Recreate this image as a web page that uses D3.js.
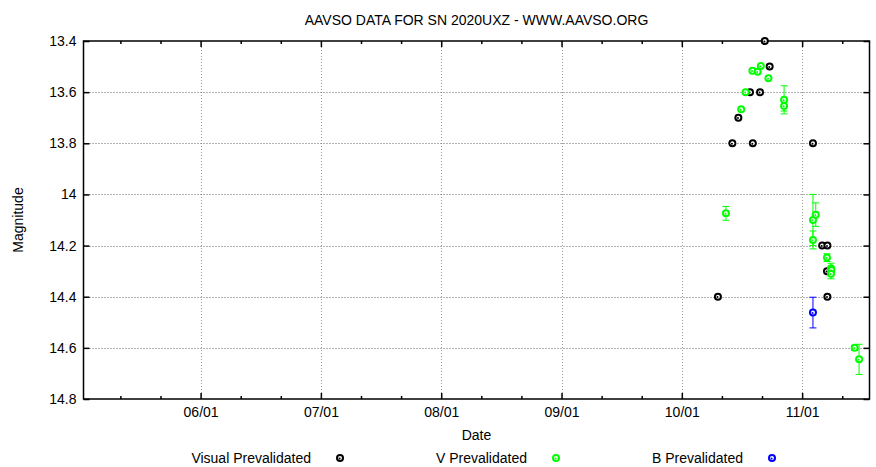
<!DOCTYPE html>
<html><head><meta charset="utf-8">
<script src="https://cdn.jsdelivr.net/npm/d3@7"></script>
<style>
html,body{margin:0;padding:0;background:#fff;}
text{font-family:"Liberation Sans",Arial,Helvetica,sans-serif;fill:#000;}
</style></head>
<body>
<svg id="chart" width="876" height="467"></svg>
<script>
// Day offsets from 2020-06-01 (axis uses 30-day tic spacing labelled by month)
const xTickDays = [0, 30, 60, 90, 120, 150];
const xTickLabels = ["06/01", "07/01", "08/01", "09/01", "10/01", "11/01"];
const xMinorDays = [-20, -10, 10, 20, 40, 50, 70, 80, 100, 110, 130, 140, 160];
const yTicks = [13.4, 13.6, 13.8, 14.0, 14.2, 14.4, 14.6, 14.8];

// Visual Prevalidated
const visualDays = [129.0, 132.6, 134.1, 137.0, 137.7, 139.5, 140.7, 141.9, 152.7, 155.0, 156.3, 156.2, 156.3];
const visualMag  = [14.4, 13.8, 13.7, 13.6, 13.8, 13.6, 13.4, 13.5, 13.8, 14.2, 14.2, 14.3, 14.4];

// V Prevalidated
const vDays = [131.0, 134.8, 135.9, 137.6, 138.9, 139.7, 141.6, 145.5, 145.5, 152.7, 153.4, 152.7, 156.2, 157.2, 157.3, 157.2, 163.1, 164.2];
const vMag  = [14.074, 13.667, 13.600, 13.516, 13.520, 13.498, 13.546, 13.630, 13.654, 14.100, 14.079, 14.178, 14.247, 14.289, 14.296, 14.310, 14.600, 14.645];
const vErr  = [0.027, 0, 0, 0, 0, 0, 0, 0.055, 0.02, 0.1, 0.046, 0.035, 0.015, 0.02, 0, 0.02, 0.01, 0.059];

// B Prevalidated
const bDays = [152.7];
const bMag  = [14.462];
const bErr  = [0.06];

const seriesNames = ["Visual Prevalidated", "V Prevalidated", "B Prevalidated"];
const seriesColors = ["#000000", "#00ff00", "#0000ff"];

const svg = d3.select("#chart");
const L = 83.5, R = 869.5, T = 41, B = 399;
const FS = 14;
const x = d3.scaleLinear().domain([-29.2, 166.8]).range([L, R]);
const y = d3.scaleLinear().domain([13.4, 14.8]).range([T, B]);
const fmtY = d => String(+d.toFixed(1));

// grid
const grid = svg.append("g");
grid.selectAll("line.gx").data(xTickDays).join("line")
  .attr("x1", d => Math.round(x(d)) + 0.5).attr("x2", d => Math.round(x(d)) + 0.5)
  .attr("y1", T).attr("y2", B)
  .attr("stroke", "#999").attr("stroke-width", 1).attr("stroke-dasharray", "1,2");
grid.selectAll("line.gy").data(yTicks.slice(1, -1)).join("line")
  .attr("y1", d => Math.round(y(d)) + 0.5).attr("y2", d => Math.round(y(d)) + 0.5)
  .attr("x1", L).attr("x2", R)
  .attr("stroke", "#666").attr("stroke-width", 1).attr("stroke-dasharray", "1,2");

// axes
function styleAxis(g) {
  g.select(".domain").remove();
  g.selectAll(".tick line").attr("stroke", "#000").attr("stroke-width", 1.5);
  g.selectAll(".tick text").attr("font-size", FS).attr("font-family", '"Liberation Sans",Arial,sans-serif');
}
svg.append("g").attr("transform", `translate(0,${B})`)
  .call(d3.axisBottom(x).tickValues(xTickDays).tickFormat((d, i) => xTickLabels[i]).tickSize(-6).tickPadding(8))
  .call(styleAxis);
svg.append("g").attr("transform", `translate(0,${B})`)
  .call(d3.axisBottom(x).tickValues(xMinorDays).tickFormat("").tickSize(-3))
  .call(styleAxis);
svg.append("g").attr("transform", `translate(0,${T})`)
  .call(d3.axisTop(x).tickValues(xTickDays).tickFormat("").tickSize(-6))
  .call(styleAxis);
svg.append("g").attr("transform", `translate(0,${T})`)
  .call(d3.axisTop(x).tickValues(xMinorDays).tickFormat("").tickSize(-3))
  .call(styleAxis);
svg.append("g").attr("transform", `translate(${L},0)`)
  .call(d3.axisLeft(y).tickValues(yTicks).tickFormat(fmtY).tickSize(-6).tickPadding(7))
  .call(styleAxis);
svg.append("g").attr("transform", `translate(${R},0)`)
  .call(d3.axisRight(y).tickValues(yTicks).tickFormat("").tickSize(-6))
  .call(styleAxis);

// border
svg.append("rect").attr("x", L).attr("y", T).attr("width", R - L).attr("height", B - T)
  .attr("fill", "none").attr("stroke", "#000").attr("stroke-width", 1.5);

// markers
function marker(g, cx, cy, color) {
  g.append("circle").attr("cx", cx).attr("cy", cy).attr("r", 4).attr("fill", color);
  g.append("circle").attr("cx", cx).attr("cy", cy).attr("r", 2.0).attr("fill", "#fff");
  g.append("circle").attr("cx", cx - 0.4).attr("cy", cy + 0.4).attr("r", 1.0).attr("fill", color);
}
function errBar(g, cx, m, e, color) {
  if (!e) return;
  const y1 = y(m - e), y2 = y(m + e);
  g.append("line").attr("x1", cx).attr("x2", cx).attr("y1", y1).attr("y2", y2).attr("stroke", color).attr("stroke-width", 1);
  [y1, y2].forEach(yy => g.append("line").attr("x1", cx - 3.5).attr("x2", cx + 3.5).attr("y1", yy).attr("y2", yy).attr("stroke", color).attr("stroke-width", 1));
}
const pts = svg.append("g");
visualDays.forEach((d, i) => marker(pts, x(d), y(visualMag[i]), seriesColors[0]));
vDays.forEach((d, i) => errBar(pts, x(d), vMag[i], vErr[i], seriesColors[1]));
vDays.forEach((d, i) => marker(pts, x(d), y(vMag[i]), seriesColors[1]));
bDays.forEach((d, i) => errBar(pts, x(d), bMag[i], bErr[i], seriesColors[2]));
bDays.forEach((d, i) => marker(pts, x(d), y(bMag[i]), seriesColors[2]));

// titles
svg.append("text").attr("x", (L + R) / 2).attr("y", 25).attr("text-anchor", "middle").attr("font-size", FS)
  .text("AAVSO DATA FOR SN 2020UXZ - WWW.AAVSO.ORG");
svg.append("text").attr("x", (L + R) / 2).attr("y", 440).attr("text-anchor", "middle").attr("font-size", FS).text("Date");
svg.append("text").attr("transform", `translate(23,${(T + B) / 2}) rotate(-90)`).attr("text-anchor", "middle").attr("font-size", FS).text("Magnitude");

// legend
const legX = [311, 527, 743];
seriesNames.forEach((n, i) => {
  svg.append("text").attr("x", legX[i]).attr("y", 463).attr("text-anchor", "end").attr("font-size", FS).text(n);
  marker(svg, legX[i] + 29, 458, seriesColors[i]);
});
</script>
</body></html>
